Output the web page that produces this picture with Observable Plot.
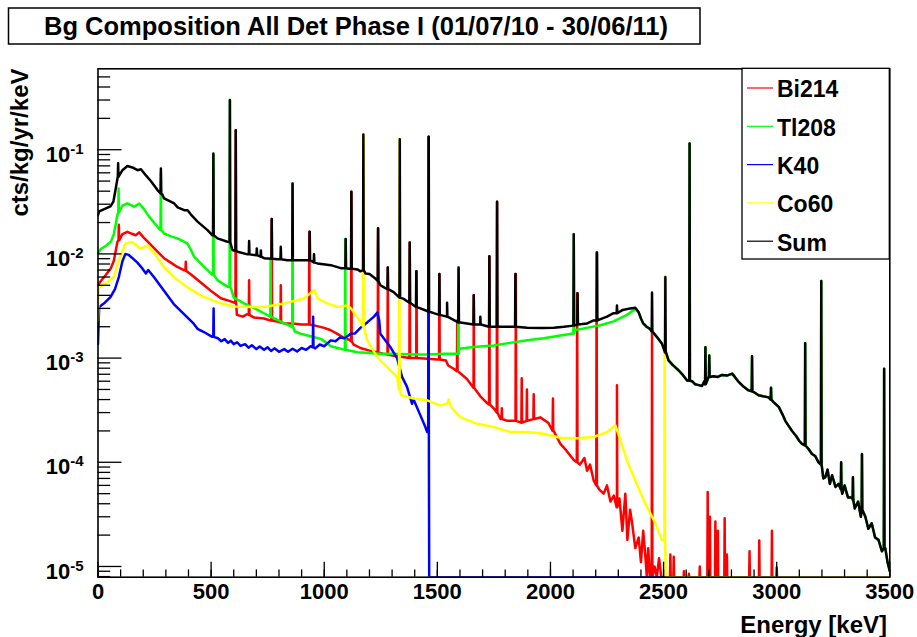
<!DOCTYPE html>
<html><head><meta charset="utf-8">
<script src="https://cdn.jsdelivr.net/npm/d3@7"></script>
<script src="https://cdn.jsdelivr.net/npm/@observablehq/plot@0.6"></script>
<style>
body{margin:0;background:#fff;}
#wrap{position:relative;width:917px;height:637px;font-family:"Liberation Sans",Arial,sans-serif;}
#wrap svg{position:absolute;left:0;top:0;}
</style></head><body><div id="wrap"></div>
<script>
// ---------- text ----------
const titleText = "Bg Composition All Det Phase I (01/07/10 - 30/06/11)";
const xTitle = "Energy [keV]";
const yTitle = "cts/kg/yr/keV";
const seriesNames = ["Bi214", "Tl208", "K40", "Co60", "Sum"];
const seriesColors = ["#ff0000", "#00ff00", "#0000ff", "#ffff00", "#000000"];

// ---------- ticks ----------
const xTicksMajor = [0, 500, 1000, 1500, 2000, 2500, 3000, 3500];
const xTicksMinor = [0,100,200,300,400,500,600,700,800,900,1000,1100,1200,1300,1400,1500,1600,1700,1800,1900,2000,2100,2200,2300,2400,2500,2600,2700,2800,2900,3000,3100,3200,3300,3400,3500];
const yTicksMajor = [1e-5, 1e-4, 1e-3, 1e-2, 1e-1];
const yMantissas = [2, 3, 4, 5, 6, 7, 8, 9];
const yDomain = [7.89e-6, 0.598];

// ---------- data: [energy keV, cts/kg/yr/keV]; peaks: [energy, base, top] ----------
const bi214Cont = [[0,5.0e-3],[10,5.4e-3],[35,6.3e-3],[57,7.3e-3],[70,8.6e-3],[86,1.31e-2],[108,1.55e-2],[130,1.63e-2],[150,1.56e-2],[167,1.51e-2],[182,1.61e-2],[200,1.45e-2],[234,1.22e-2],[263,1.05e-2],[292,9.1e-3],[320,8.3e-3],[351,7.5e-3],[380,7.0e-3],[425,6.0e-3],[469,5.0e-3],[506,4.3e-3],[543,3.75e-3],[587,3.5e-3],[604,3.4e-3],[614,2.6e-3],[640,2.5e-3],[661,2.65e-3],[690,2.45e-3],[734,2.4e-3],[760,2.3e-3],[790,2.25e-3],[823,2.15e-3],[860,2.15e-3],[900,2.1e-3],[960,2.05e-3],[1000,1.95e-3],[1029,1.85e-3],[1060,1.7e-3],[1090,1.55e-3],[1110,1.5e-3],[1130,1.35e-3],[1160,1.25e-3],[1200,1.18e-3],[1234,1.14e-3],[1260,1.1e-3],[1300,1.06e-3],[1340,1.03e-3],[1381,1.0e-3],[1440,9.9e-4],[1500,9.7e-4],[1538,9.5e-4],[1548,8.5e-4],[1572,7.9e-4],[1600,7.2e-4],[1631,6.3e-4],[1660,5.2e-4],[1690,4.3e-4],[1720,3.7e-4],[1749,3.3e-4],[1779,2.6e-4],[1810,2.5e-4],[1837,2.5e-4],[1870,2.4e-4],[1897,2.5e-4],[1930,2.6e-4],[1955,2.7e-4],[1990,2.4e-4],[2014,2.0e-4],[2044,1.5e-4],[2070,1.3e-4],[2103,1.05e-4],[2130,9.5e-5],[2150,1.1e-4],[2162,8.3e-5],[2175,9.5e-5],[2191,6.7e-5],[2215,5.5e-5],[2235,5.0e-5],[2250,6.0e-5],[2265,4.2e-5],[2280,4.8e-5],[2294,3.7e-5],[2305,4.5e-5],[2318,2.2e-5],[2331,5.0e-5],[2340,1.8e-5],[2352,3.5e-5],[2361,2.6e-5],[2375,1.5e-5],[2390,1.9e-5],[2400,1.1e-5],[2410,2.2e-5],[2419,1.3e-5],[2426,0],[2432,1.5e-5],[2440,0],[2460,1.0e-5],[2470,0],[2480,1.2e-5],[2490,0],[3500,0]];
const bi214Peaks = [[92,1.35e-2,1.9e-2],[388,6.9e-3,8.4e-3],[609,3.4e-3,0.154],[668,2.6e-3,5.6e-3],[768,2.3e-3,0.0216],[808,2.2e-3,5.0e-3],[934,2.1e-3,0.0163],[1120,1.45e-3,0.0395],[1238,1.13e-3,0.0176],[1281,1.08e-3,7.4e-3],[1378,1.0e-3,0.0129],[1408,1.0e-3,6.8e-3],[1509,9.7e-4,6.4e-3],[1588,7.5e-4,2.3e-3],[1661,5.2e-4,4.0e-3],[1730,3.6e-4,9.5e-3],[1764,3.0e-4,0.0317],[1785,2.6e-4,3.3e-4],[1847,2.5e-4,6.4e-3],[1873,2.4e-4,6.4e-4],[1896,2.5e-4,5.0e-4],[1926,2.6e-4,4.5e-4],[2011,2.0e-4,4.1e-4],[2118,1.0e-4,4.2e-3],[2204,6.0e-5,0.0103],[2294,3.7e-5,5.5e-4],[2449,0,1.85e-3],[2530,0,1.3e-5],[2545,0,1.24e-5],[2590,0,9e-6],[2612,0,8.5e-6],[2660,0,1e-5],[2695,0,5.2e-5],[2705,0,3e-5],[2729,0,2.7e-5],[2740,0,2.2e-5],[2770,0,2.9e-5],[2780,0,1.3e-5],[2880,0,1.4e-5],[2923,0,1.78e-5],[2979,0,2.2e-5],[3000,0,9.8e-6]];

const tl208Cont = [[0,1.0e-2],[10,1.1e-2],[35,1.2e-2],[57,1.31e-2],[70,1.55e-2],[86,2.36e-2],[108,2.9e-2],[130,3.05e-2],[160,2.84e-2],[182,3.05e-2],[200,2.75e-2],[226,2.28e-2],[263,1.82e-2],[275,1.7e-2],[292,1.57e-2],[320,1.48e-2],[351,1.41e-2],[395,1.26e-2],[410,1.1e-2],[425,9.4e-3],[469,7.5e-3],[506,6.3e-3],[528,5.6e-3],[572,4.85e-3],[590,4.5e-3],[600,3.8e-3],[646,3.35e-3],[705,2.9e-3],[740,2.65e-3],[764,2.5e-3],[823,2.15e-3],[858,2.0e-3],[870,1.8e-3],[900,1.7e-3],[940,1.62e-3],[985,1.53e-3],[1010,1.4e-3],[1029,1.3e-3],[1060,1.25e-3],[1090,1.2e-3],[1147,1.14e-3],[1200,1.12e-3],[1250,1.1e-3],[1307,1.1e-3],[1400,1.08e-3],[1455,1.08e-3],[1530,1.1e-3],[1590,1.1e-3],[1597,1.23e-3],[1650,1.27e-3],[1700,1.3e-3],[1749,1.32e-3],[1820,1.4e-3],[1897,1.48e-3],[1970,1.55e-3],[2044,1.65e-3],[2100,1.72e-3],[2107,1.85e-3],[2160,1.95e-3],[2220,2.07e-3],[2279,2.25e-3],[2338,2.6e-3],[2375,2.95e-3]];
const tl208Peaks = [[91,2.5e-2,4.25e-2],[278,1.7e-2,0.06],[510,6.3e-3,0.09],[583,4.85e-3,0.30],[763,2.5e-3,8.7e-3],[860,2.0e-3,0.0475],[1093,1.2e-3,0.0139],[1593,1.1e-3,7.4e-3],[2103,1.72e-3,0.0154]];

// high-energy part, dominated by Tl208 (shared by Tl208 and Sum)
const highECont = [[2390,2.75e-3],[2400,2.4e-3],[2410,2.15e-3],[2425,2.0e-3],[2440,1.9e-3],[2460,1.7e-3],[2475,1.55e-3],[2493,1.37e-3],[2510,1.15e-3],[2522,9.5e-4],[2540,8.6e-4],[2567,7.6e-4],[2585,6.9e-4],[2604,6.1e-4],[2626,6.0e-4],[2640,5.6e-4],[2655,5.5e-4],[2670,5.4e-4],[2680,6.0e-4],[2699,6.6e-4],[2720,6.7e-4],[2740,6.6e-4],[2758,6.9e-4],[2780,6.8e-4],[2803,7.1e-4],[2815,6.6e-4],[2832,5.9e-4],[2850,5.4e-4],[2876,4.9e-4],[2900,4.7e-4],[2920,4.4e-4],[2940,4.3e-4],[2964,4.2e-4],[2985,3.8e-4],[3009,3.4e-4],[3025,2.9e-4],[3038,2.5e-4],[3055,2.2e-4],[3068,2.0e-4],[3085,1.8e-4],[3100,1.6e-4],[3112,1.5e-4],[3140,1.35e-4],[3156,1.2e-4],[3170,1.15e-4],[3185,1.0e-4],[3200,9e-5],[3206,7e-5],[3215,7.2e-5],[3225,8.5e-5],[3235,6.2e-5],[3245,7.5e-5],[3260,5.8e-5],[3274,6.2e-5],[3290,5.0e-5],[3300,6.0e-5],[3315,4.6e-5],[3333,4.6e-5],[3345,3.6e-5],[3360,4.2e-5],[3372,3.0e-5],[3392,3.0e-5],[3405,2.3e-5],[3420,2.6e-5],[3435,1.9e-5],[3450,1.8e-5],[3465,1.4e-5],[3480,1.5e-5],[3490,1.1e-5],[3500,9e-6]];
const highEPeaks = [[2615,6.05e-4,0.115],[2685,5.6e-4,1.27e-3],[2702,6.6e-4,1.06e-3],[2891,4.8e-4,1.04e-3],[2975,4.0e-4,5.2e-4],[3126,1.45e-4,1.39e-3],[3197,9.5e-5,5.5e-3],[3285,5.5e-5,1.0e-4],[3337,4.4e-5,7.2e-5],[3377,3.5e-5,1.2e-4],[3475,1.5e-5,7.9e-4]];

const k40Cont = [[0,1.37e-3],[5,3.1e-3],[30,3.4e-3],[55,3.85e-3],[75,4.6e-3],[92,6.0e-3],[108,8.5e-3],[121,1.0e-2],[135,9.8e-3],[150,9.2e-3],[173,8.3e-3],[195,7.3e-3],[212,6.5e-3],[222,7.0e-3],[247,6.0e-3],[291,4.46e-3],[335,3.3e-3],[379,2.66e-3],[423,2.14e-3],[440,1.91e-3],[468,1.78e-3],[505,1.6e-3],[530,1.55e-3],[545,1.45e-3],[560,1.52e-3],[575,1.4e-3],[587,1.47e-3],[600,1.36e-3],[615,1.42e-3],[630,1.31e-3],[650,1.36e-3],[665,1.26e-3],[680,1.33e-3],[700,1.22e-3],[715,1.29e-3],[734,1.2e-3],[750,1.27e-3],[765,1.17e-3],[780,1.24e-3],[800,1.15e-3],[823,1.22e-3],[840,1.15e-3],[860,1.23e-3],[880,1.16e-3],[900,1.25e-3],[920,1.2e-3],[940,1.3e-3],[960,1.24e-3],[980,1.35e-3],[1000,1.3e-3],[1029,1.48e-3],[1050,1.45e-3],[1070,1.58e-3],[1090,1.55e-3],[1117,1.71e-3],[1135,1.72e-3],[1160,1.95e-3],[1190,2.2e-3],[1220,2.5e-3],[1234,2.73e-3],[1243,2.3e-3],[1248,1.71e-3],[1293,1.27e-3],[1322,1.0e-3],[1344,6.6e-4],[1366,5.3e-4],[1388,3.65e-4],[1395,4.0e-4],[1425,2.82e-4],[1447,2.18e-4],[1455,1.95e-4],[1464,0],[3500,0]];
const k40Peaks = [[511,1.6e-3,3.0e-3],[951,1.27e-3,2.5e-3],[1461,1.95e-4,0.133]];

const co60Cont = [[0,2.3e-3],[3,4.8e-3],[41,5.35e-3],[70,6.0e-3],[92,8.66e-3],[121,1.25e-2],[151,1.3e-2],[188,1.12e-2],[217,1.21e-2],[247,1.03e-2],[291,7.5e-3],[335,6.0e-3],[394,4.8e-3],[453,4.0e-3],[527,3.44e-3],[600,3.13e-3],[689,3.1e-3],[734,3.1e-3],[823,3.35e-3],[911,3.74e-3],[950,4.4e-3],[958,4.5e-3],[970,3.74e-3],[1014,3.35e-3],[1058,3.1e-3],[1103,3.2e-3],[1118,3.0e-3],[1161,2.23e-3],[1190,1.48e-3],[1234,1.02e-3],[1278,8.2e-4],[1322,6.6e-4],[1340,4.4e-4],[1396,4.1e-4],[1455,3.93e-4],[1513,3.5e-4],[1545,3.7e-4],[1550,4.0e-4],[1560,3.4e-4],[1602,2.71e-4],[1676,2.34e-4],[1749,2.18e-4],[1823,1.95e-4],[1897,1.95e-4],[1970,1.88e-4],[2044,1.72e-4],[2117,1.7e-4],[2191,1.75e-4],[2250,1.95e-4],[2287,2.26e-4],[2302,1.82e-4],[2338,1.04e-4],[2375,6.7e-5],[2419,4.0e-5],[2464,2.6e-5],[2493,1.78e-5],[2510,0],[3500,0]];
const co60Peaks = [[1173,2.0e-3,0.14],[1332,5.0e-4,0.126],[2505,1.78e-5,6.0e-3]];

const sumCont = [[0,0.0235],[5,0.0256],[30,0.027],[55,0.0286],[68,0.0317],[78,0.042],[86,0.053],[108,0.0636],[130,0.0697],[152,0.0676],[175,0.0636],[190,0.065],[211,0.057],[236,0.0493],[263,0.041],[285,0.037],[292,0.0341],[337,0.0305],[352,0.028],[381,0.0263],[396,0.0263],[410,0.024],[440,0.0204],[484,0.0169],[506,0.0151],[528,0.0141],[572,0.0131],[594,0.0109],[605,0.0107],[617,0.0105],[661,0.0099],[705,0.0097],[734,0.0091],[793,0.0089],[837,0.0087],[882,0.0087],[926,0.0087],[970,0.0081],[1029,0.0078],[1073,0.0073],[1110,0.0072],[1147,0.0071],[1160,0.0068],[1182,0.0065],[1200,0.0064],[1226,0.0058],[1248,0.0050],[1270,0.0047],[1307,0.0043],[1351,0.0037],[1396,0.0032],[1425,0.0030],[1484,0.0027],[1543,0.0025],[1602,0.0022],[1631,0.00215],[1690,0.0021],[1749,0.0020],[1808,0.0020],[1897,0.00196],[1960,0.00194],[2015,0.00196],[2060,0.0020],[2100,0.00205],[2162,0.00215],[2191,0.0023],[2250,0.0025],[2279,0.0027],[2320,0.0029],[2353,0.0030],[2375,0.00305]];
const sumPeaks = [[89,0.055,0.074],[278,0.038,0.066],[510,0.0151,0.092],[583,0.013,0.30],[609,0.0107,0.154],[668,0.0099,0.0133],[702,0.0097,0.0113],[720,0.0094,0.0108],[768,0.009,0.0216],[808,0.0089,0.0117],[860,0.0087,0.0475],[936,0.0087,0.0163],[955,0.0083,0.0099],[1095,0.0073,0.0139],[1120,0.0072,0.0395],[1173,0.007,0.14],[1238,0.0055,0.0176],[1281,0.0046,0.0074],[1334,0.0038,0.126],[1378,0.0034,0.0129],[1407,0.0031,0.0068],[1462,0.0028,0.133],[1509,0.0026,0.0064],[1543,0.0025,0.0034],[1594,0.0022,0.0074],[1661,0.0021,0.0040],[1690,0.0021,0.0025],[1730,0.0020,0.0095],[1764,0.0020,0.0317],[1845,0.0020,0.0064],[2103,0.00205,0.0154],[2120,0.0021,0.0042],[2206,0.0023,0.0103],[2294,0.0027,0.0032],[2449,0.0018,0.00427],[2508,0.00113,0.006]];

// ---------- build line tables ----------
function spectrum(cont, peaks) {
  const pts = cont.map(([e, v]) => [e, v]);
  for (const [e, b, t] of peaks) { pts.push([e - 1.5, b], [e, t], [e + 1.5, b]); }
  pts.sort((a, b) => a[0] - b[0]);
  return pts;
}
const seriesData = [
  spectrum(bi214Cont, bi214Peaks),
  spectrum(tl208Cont.concat(highECont), tl208Peaks.concat(highEPeaks)),
  spectrum(k40Cont, k40Peaks),
  spectrum(co60Cont, co60Peaks),
  spectrum(sumCont.concat(highECont), sumPeaks.concat(highEPeaks))
];
const yMinor = [];
for (const p of [-6, -5, -4, -3, -2, -1]) for (const m of yMantissas) {
  const v = m * Math.pow(10, p);
  if (v >= yDomain[0] && v <= yDomain[1]) yMinor.push(v);
}

const FONT = '"Liberation Sans", Arial, Helvetica, sans-serif';
const lineMarks = seriesData.map((pts, i) => Plot.line(pts, {
  x: d => d[0],
  y: d => Math.max(d[1], yDomain[0]),   // empty bins are drawn on the lower edge, as ROOT does
  stroke: seriesColors[i], strokeWidth: 2.5, clip: true
}));

const chart = Plot.plot({
  width: 917, height: 637,
  marginLeft: 97.5, marginRight: 27.7, marginTop: 68.3, marginBottom: 60.3,
  style: {fontFamily: FONT, background: "white", color: "black", overflow: "visible"},
  x: {domain: [0, 3500]},
  y: {type: "log", domain: yDomain},
  marks: [
    ...lineMarks,
    Plot.axisX({ticks: xTicksMinor, tickSize: -7.3, tickFormat: () => "", label: null, strokeWidth: 1.3}),
    Plot.axisX({ticks: xTicksMajor, tickSize: -15, tickFormat: () => "", label: null, strokeWidth: 1.3}),
    Plot.axisX({ticks: xTicksMajor, tickSize: 0, tickPadding: 6, fontSize: 22, fontWeight: "bold", tickFormat: d => String(d), label: null}),
    Plot.axisY({ticks: yMinor, tickSize: -12.7, tickFormat: () => "", label: null, strokeWidth: 1.3}),
    Plot.axisY({ticks: yTicksMajor, tickSize: -24, tickFormat: () => "", label: null, strokeWidth: 1.3}),
    Plot.axisY({ticks: yTicksMajor, tickSize: 0, tickPadding: 14.5, dy: 5, fontSize: 22, fontWeight: "bold", tickFormat: d => "10^" + Math.round(Math.log10(d)), label: null}),
    Plot.frame({stroke: "black", strokeWidth: 1.6})
  ]
});

const wrap = document.getElementById("wrap");
wrap.appendChild(chart);
const svg = d3.select(chart);

// superscript exponents on the y tick labels
svg.selectAll("text").each(function () {
  const t = this.textContent;
  if (!t.startsWith("10^")) return;
  const [base, ex] = t.split("^");
  const s = d3.select(this);
  s.text(null);
  s.append("tspan").text(base);
  s.append("tspan").attr("dy", -8).attr("font-size", 15).text(ex);
});

// axis titles
svg.append("text").attr("x", 887).attr("y", 633).attr("text-anchor", "end")
  .attr("font-size", 24).attr("font-weight", "bold").attr("font-family", FONT).text(xTitle);
svg.append("text").attr("transform", "translate(28,68.5) rotate(-90)").attr("text-anchor", "end")
  .attr("font-size", 24).attr("font-weight", "bold").attr("font-family", FONT).text(yTitle);

// overlay: title box and legend
const ov = d3.select(wrap).append("svg").attr("width", 917).attr("height", 637)
  .style("pointer-events", "none").attr("font-family", FONT);
ov.append("rect").attr("x", 8.5).attr("y", 8).attr("width", 691.5).attr("height", 36)
  .attr("fill", "white").attr("stroke", "black").attr("stroke-width", 1.5);
ov.append("text").attr("x", 356).attr("y", 35).attr("text-anchor", "middle")
  .attr("font-size", 25.5).attr("font-weight", "bold").text(titleText);

const lg = ov.append("g");
lg.append("rect").attr("x", 742).attr("y", 68.3).attr("width", 147.3).attr("height", 190.7)
  .attr("fill", "white").attr("stroke", "black").attr("stroke-width", 1.3);
seriesNames.forEach((name, i) => {
  const y = 88 + i * 38.3;
  lg.append("line").attr("x1", 747).attr("x2", 773).attr("y1", y).attr("y2", y)
    .attr("stroke", seriesColors[i]).attr("stroke-width", 1.2);
  lg.append("text").attr("x", 777).attr("y", y + 9.3).attr("font-size", 23)
    .attr("font-weight", "bold").text(name);
});
</script></body></html>
